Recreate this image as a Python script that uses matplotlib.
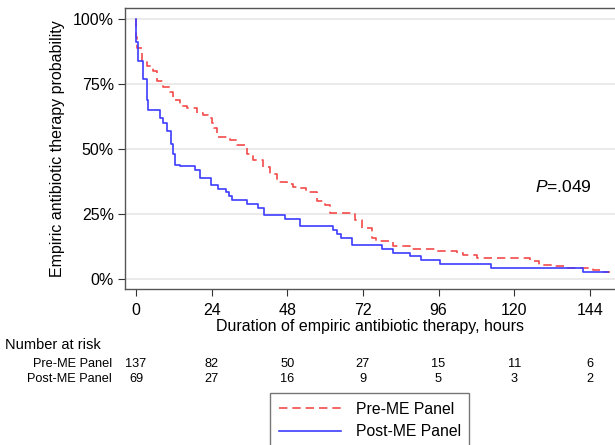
import matplotlib
matplotlib.use("Agg")
import matplotlib.pyplot as plt
import matplotlib.transforms as mtransforms

plt.rcParams['font.family'] = ['Liberation Sans', 'DejaVu Sans']
plt.rcParams['mathtext.fontset'] = 'custom'
plt.rcParams['mathtext.it'] = 'Liberation Sans:italic'
plt.rcParams['mathtext.rm'] = 'Liberation Sans'

# ---- data ----
post_times = [0, 0, 0.7, 2.2, 3.4, 3.7, 7.6, 8.6, 9.8, 11.1, 11.7, 12.4, 14.0,
              18.7, 20.3, 23.8, 26.0, 28.5, 29.5, 30.4, 35.2, 38.7, 40.6,
              47.3, 52.0, 62.5, 63.7, 65.2, 68.5, 78.0, 81.5, 86.9, 90.4,
              96.5, 112.8, 141.8, 149.7]
post_surv = [1.0, 0.91, 0.84, 0.77, 0.69, 0.65, 0.62, 0.60, 0.57, 0.52, 0.48, 0.44,
             0.435, 0.42, 0.39, 0.362, 0.347, 0.333, 0.319, 0.304, 0.29, 0.275, 0.246,
             0.232, 0.203, 0.188, 0.174, 0.159, 0.130, 0.116, 0.101, 0.087, 0.072,
             0.058, 0.043, 0.029, 0.029]

pre_times = [0, 0, 0.3, 1.8, 3.4, 5.4, 6.6, 8.6, 10.8, 11.7, 14.0, 16.1, 19.4,
             21.2, 22.8, 24.2, 24.6, 25.7, 29.8, 32.0, 34.6, 35.2, 37.1, 40.3,
             42.5, 44.7, 47.9, 49.8, 52.0, 54.0, 57.4, 59.9, 61.5, 69.5, 71.6,
             74.8, 76.3, 81.5, 86.9, 95.0, 101.8, 103.7, 108.2, 125.0, 128.0,
             132.0, 136.7, 145.0, 148.0, 150.3]
pre_surv = [1.0, 0.93, 0.89, 0.84, 0.82, 0.80, 0.76, 0.74, 0.72, 0.69, 0.665, 0.657,
            0.64, 0.63, 0.62, 0.60, 0.58, 0.547, 0.535, 0.515, 0.51, 0.48, 0.457,
            0.43, 0.405, 0.374, 0.365, 0.355, 0.35, 0.335, 0.30, 0.285, 0.253,
            0.227, 0.197, 0.157, 0.146, 0.127, 0.114, 0.109, 0.102, 0.092, 0.080,
            0.069, 0.056, 0.051, 0.044, 0.036, 0.029, 0.029]

risk_times = [0, 24, 48, 72, 96, 120, 144]
pre_risk = [137, 82, 50, 27, 15, 11, 6]
post_risk = [69, 27, 16, 9, 5, 3, 2]

yticks = [0, 0.25, 0.5, 0.75, 1.0]
ytick_labels = ['0%', '25%', '50%', '75%', '100%']

# ---- figure ----
W, H = 615, 445
fig = plt.figure(figsize=(W / 100, H / 100), dpi=100)
ax = fig.add_axes([125 / W, (H - 289) / H, (615 - 125) / W, (289 - 8) / H])

red = '#f24a4a'
blue = '#3c3cff'
ax.step(pre_times, pre_surv, where='post', color=red, lw=1.2,
        linestyle=(0, (5, 3)), label='Pre-ME Panel', zorder=3)
ax.step(post_times, post_surv, where='post', color=blue, lw=1.2,
        label='Post-ME Panel', zorder=3)

ax.set_xlim(-3.5, 152)
ax.set_ylim(-0.038, 1.042)
ax.set_yticks(yticks)
ax.set_yticklabels(ytick_labels)
ax.set_xticks(risk_times)
ax.tick_params(axis='y', labelsize=11.5, color='#333333', length=5, width=0.8, pad=3)
ax.tick_params(axis='x', labelsize=11.5, color='#333333', length=5, width=0.8, pad=5)
ax.grid(axis='y', color='#e6e6e6', lw=1.2, zorder=0)
for s in ['left', 'top', 'bottom']:
    ax.spines[s].set_color('#555555')
    ax.spines[s].set_linewidth(1.0)
ax.spines['right'].set_visible(False)

ax.set_ylabel('Empiric antibiotic therapy probability', fontsize=11.5)
ax.yaxis.set_label_coords((65 - 125) / 490, 0.5)
ax.set_xlabel('Duration of empiric antibiotic therapy, hours', fontsize=11.5, labelpad=1)

ax.text(126.5, 0.354, '$\\it{P}$=.049', fontsize=12.5, va='center', ha='left')

# ---- number at risk ----
trans = mtransforms.blended_transform_factory(ax.transData, fig.transFigure)
fig.text(5 / W, 1 - 345 / H, 'Number at risk', fontsize=10.5, va='center', ha='left')
fig.text(112 / W, 1 - 364 / H, 'Pre-ME Panel', fontsize=9.2, va='center', ha='right')
fig.text(112 / W, 1 - 379 / H, 'Post-ME Panel', fontsize=9.2, va='center', ha='right')
for t, a, b in zip(risk_times, pre_risk, post_risk):
    ax.text(t, 1 - 364 / H, str(a), fontsize=9.2, va='center', ha='center',
            transform=trans, clip_on=False)
    ax.text(t, 1 - 379 / H, str(b), fontsize=9.2, va='center', ha='center',
            transform=trans, clip_on=False)

# ---- legend ----
leg = fig.legend(loc='upper left', bbox_to_anchor=(270 / W, 1 - 393 / H),
                 fontsize=11.3, frameon=True, fancybox=False, edgecolor='#555555',
                 handlelength=4.0, handletextpad=0.9, borderpad=0.55,
                 labelspacing=0.5, borderaxespad=0)
leg.get_frame().set_linewidth(1.0)

fig.savefig('out.png', dpi=100)
